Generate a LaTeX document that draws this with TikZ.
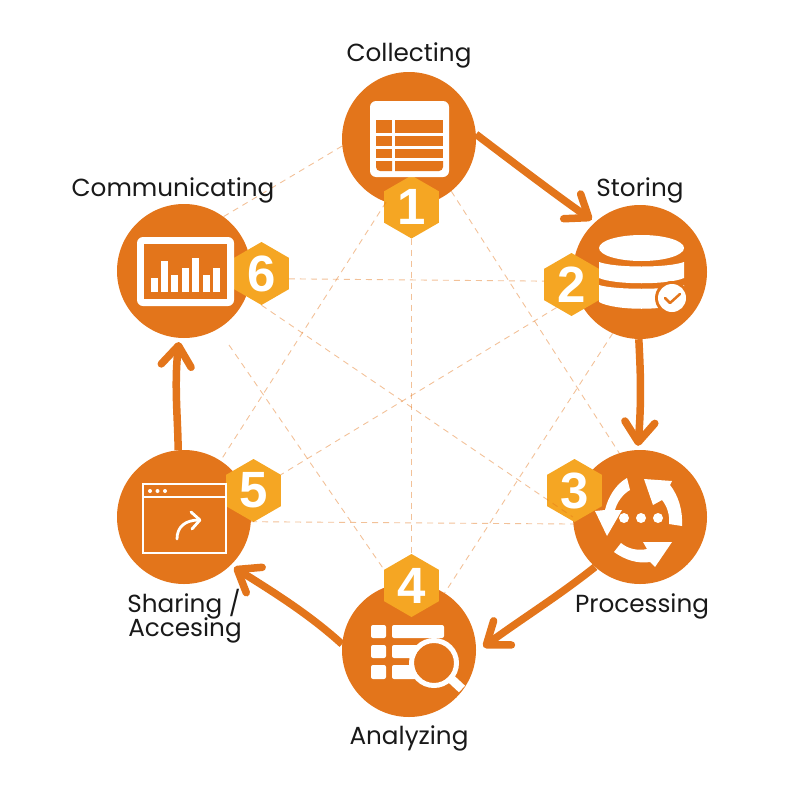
\documentclass[tikz,border=0pt]{standalone}
\usepackage{fontspec}
\setmainfont{Poppins}
\newfontfamily\hexfont{Liberation Sans}
\usetikzlibrary{arrows.meta,shapes.geometric}
\definecolor{steporange}{HTML}{E3751B}
\definecolor{hexorange}{HTML}{F5A623}
\tikzset{
  stepcircle/.style={circle,fill=steporange,minimum size=134pt,inner sep=0pt},
  stephex/.style={regular polygon,regular polygon sides=6,shape border rotate=30,fill=hexorange,minimum size=63pt,inner sep=0pt,text=white,font=\hexfont\bfseries\fontsize{51}{51}\selectfont},
  steplabel/.style={anchor=base,inner sep=0pt,text=black!90,font=\fontsize{24.7}{26}\selectfont},
  crossdash/.style={color=steporange,opacity=.45,line width=.9pt,dash pattern=on 6pt off 5pt},
  flowarrow/.style={color=steporange,line width=7.5pt,shorten >=4pt,-{Straight Barb[length=20pt,width=30pt,line width=7.5pt,round]}}
}
\begin{document}
\begin{tikzpicture}[x=1pt,y=-1pt]
      \useasboundingbox (0,0) rectangle (800,800);
      \node[stepcircle] (collecting) at (409,139) {};
      \node[stepcircle] (storing) at (640,272) {};
      \node[stepcircle] (processing) at (640,517) {};
      \node[stepcircle] (analyzing) at (409,650) {};
      \node[stepcircle] (sharing) at (184,517) {};
      \node[stepcircle] (communicating) at (184,271) {};
      \node[stephex] (hexone) at (411.5,207) {1};
      \node[stephex] (hextwo) at (571.5,284.5) {2};
      \node[stephex] (hexthree) at (574.5,490.5) {3};
      \node[stephex] (hexfour) at (411.5,585.5) {4};
      \node[stephex] (hexfive) at (253.5,490.5) {5};
      \node[stephex] (hexsix) at (261.5,273.5) {6};
      \coordinate (crossstart) at (229,345);
      \draw[crossdash] (collecting.-51) -- (processing.108);
      \draw[crossdash] (collecting.-110) -- (sharing.57);
      \draw[crossdash] (hexone.south) -- (hexfour.north);
      \draw[crossdash] (storing.-114) -- (analyzing.58);
      \draw[crossdash] (hextwo.237) -- (hexfive.30);
      \draw[crossdash] (hexsix.-11) -- (hextwo.173);
      \draw[crossdash] (sharing.-4) -- (processing.186);
      \draw[crossdash] (hexsix.south) -- (processing.180);
      \draw[crossdash] (crossstart) -- (hexfour.150);
      \draw[crossdash] (communicating.54) -- (collecting.186);
      \draw[flowarrow] (collecting.4) .. controls (510,160) and (560,198) .. (storing.132);
      \draw[flowarrow] (storing.-91) .. controls (640,365) and (642,395) .. (processing.92);
      \draw[flowarrow,shorten >=9pt] (processing.-132) .. controls (560,595) and (520,620) .. (analyzing.-2);
      \draw[flowarrow] (analyzing.175) .. controls (310,615) and (275,593) .. (sharing.-46);
      \draw[flowarrow] (sharing.95) .. controls (178,420) and (174,385) .. (communicating.-94);
      \fill[white,rounded corners=6pt] (370,101) rectangle (449,177);
      \fill[steporange] (376,120) rectangle (392,133);
      \fill[steporange] (395,120) rectangle (443,133);
      \fill[steporange] (376,136) rectangle (392,146);
      \fill[steporange] (395,136) rectangle (443,146);
      \fill[steporange] (376,149) rectangle (392,158);
      \fill[steporange] (395,149) rectangle (443,158);
      \fill[steporange] (392,161) -- (376,161) [rounded corners=4pt] -- (376,171) [sharp corners] -- (392,171) -- cycle;
      \fill[steporange] (395,161) -- (395,171) [rounded corners=4pt] -- (443,171) [sharp corners] -- (443,161) -- cycle;
      \fill[white] (641.5,248) ellipse (42.5 and 13);
      \fill[white] (599,262) .. controls (615,268) and (668,268) .. (684,262) -- (684,278) .. controls (668,285) and (615,285) .. (599,278) -- cycle;
      \fill[white] (599,285) .. controls (615,290) and (668,290) .. (684,285) -- (684,302) .. controls (668,311) and (615,311) .. (599,302) -- cycle;
      \fill[steporange] (672,298) circle (17);
      \fill[white] (672,298) circle (14);
      \draw[steporange,line width=2.5pt,line cap=round,line join=round] (665,298) -- (670,303) -- (680,294);
      \fill[white] (624,518) circle (5);
      \fill[white] (641,518) circle (5);
      \fill[white] (658,518) circle (5);
      \fill[white] (627,478) .. controls (616,484) and (608,497) .. (605,510) -- (595,511) -- (607,536) -- (622,510) -- (615,510) .. controls (617,502) and (623,494) .. (630,490) -- cycle;
      \fill[white] (644,479) -- (672,481) -- (670,485) .. controls (678,495) and (683,510) .. (682,526) -- (669,524) .. controls (670,515) and (667,506) .. (662,500) -- (653,505) -- cycle;
      \fill[white] (614,552) .. controls (625,560) and (638,564) .. (650,562) -- (655,567) -- (672,542) -- (643,542) -- (647,549) .. controls (638,551) and (628,549) .. (621,543) -- cycle;
      \fill[white,rounded corners=2pt] (371,625) rectangle (386,638);
      \fill[white,rounded corners=2pt] (371,645) rectangle (386,658);
      \fill[white,rounded corners=2pt] (371,665) rectangle (386,679);
      \fill[white,rounded corners=2pt] (392,625) rectangle (444,638);
      \fill[white,rounded corners=2pt] (392,645) rectangle (425,658);
      \fill[white,rounded corners=2pt] (392,665) rectangle (425,679);
      \draw[white,line width=9pt] (448,676) -- (462,689);
      \fill[steporange] (434,663) circle (20);
      \draw[white,line width=5pt] (434,663) circle (22.5);
      \draw[white,line width=2.8pt] (143,484) rectangle (226,553);
      \draw[white,line width=2.8pt] (143,497) -- (226,497);
      \fill[white] (150,491) circle (2);
      \fill[white] (157.5,491) circle (2);
      \fill[white] (165,491) circle (2);
      \draw[white,line width=2.8pt,line cap=round] (177,539) .. controls (177,527) and (185,520) .. (199,520);
      \draw[white,line width=2.8pt,line cap=round,line join=round] (191,512) -- (200,520) -- (192,529);
      \fill[white,rounded corners=6pt] (137,237) rectangle (234,306);
      \fill[steporange] (144,244) rectangle (227,299);
      \fill[white] (151,278) rectangle (158,292);
      \fill[white] (161,261) rectangle (168,292);
      \fill[white] (171,275) rectangle (178,292);
      \fill[white] (182,268) rectangle (189,292);
      \fill[white] (192,258) rectangle (199,292);
      \fill[white] (203,275) rectangle (210,292);
      \fill[white] (213,268) rectangle (220,292);
      \node[steplabel] (lblcollecting) at (409,62) {Collecting};
      \node[steplabel] (lblstoring) at (640,196) {Storing};
      \node[steplabel] (lblprocessing) at (642,612) {Processing};
      \node[steplabel] (lblanalyzing) at (409,744) {Analyzing};
      \node[steplabel] (lblsharing) at (184,612) {Sharing /};
      \node[steplabel] (lblaccesing) at (185,636) {Accesing};
      \node[steplabel] (lblcommunicating) at (173,196) {Communicating};
    \end{tikzpicture}
\end{document}
